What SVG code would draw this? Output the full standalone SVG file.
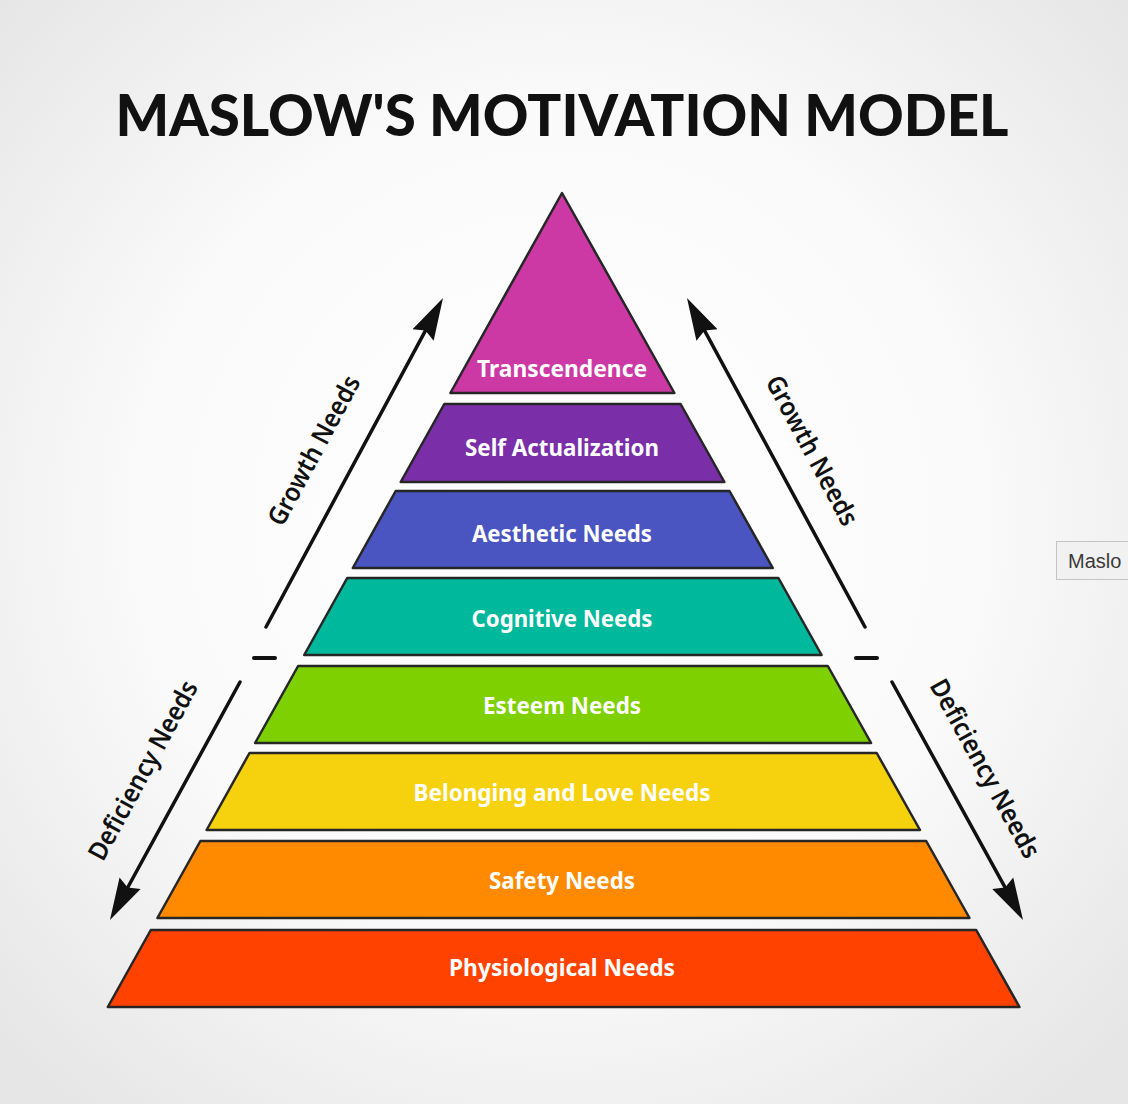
<svg xmlns="http://www.w3.org/2000/svg" width="1128" height="1104" viewBox="0 0 1128 1104">
  <defs>
    <radialGradient id="bg" cx="560" cy="520" r="760" gradientUnits="userSpaceOnUse">
      <stop offset="0" stop-color="#ffffff"/>
      <stop offset="0.55" stop-color="#fafafa"/>
      <stop offset="1" stop-color="#e6e6e6"/>
    </radialGradient>
    <marker id="head" viewBox="0 0 42 26" refX="30" refY="13" markerWidth="42" markerHeight="26" markerUnits="userSpaceOnUse" orient="auto">
      <path d="M0,1 L42,13 L0,25 L5,13 Z" fill="#111"/>
    </marker>
  </defs>
  <style>
    .layer { stroke: #262626; stroke-width: 2.5; stroke-linejoin: round; }
    .lbl { font-family: "Noto Sans", "Open Sans", sans-serif; font-weight: 700; font-size: 23px; fill: #ffffff; text-anchor: middle; }
    .side { font-family: "Noto Sans", "Open Sans", sans-serif; font-weight: 600; font-size: 26px; fill: #111; text-anchor: middle; dominant-baseline: central; }
    .arrow { stroke: #111; stroke-width: 3.5; fill: none; stroke-linecap: round; marker-end: url(#head); }
    .dash { stroke: #111; stroke-width: 4; stroke-linecap: round; }
    .title { font-family: "Lato", "Noto Sans", sans-serif; font-weight: 900; font-size: 58px; fill: #111; text-anchor: middle; }
  </style>

  <rect width="1128" height="1104" fill="url(#bg)"/>

  <text class="title" x="562" y="136" textLength="893" lengthAdjust="spacingAndGlyphs">MASLOW'S MOTIVATION MODEL</text>

  <g id="transcendence">
    <polygon class="layer" fill="#CC39A5" points="562,193 674.4,393 450.4,393"/>
    <text class="lbl" x="562" y="377" textLength="170" lengthAdjust="spacingAndGlyphs">Transcendence</text>
  </g>
  <g id="self-actualization">
    <polygon class="layer" fill="#7A2EA8" points="444.3,404 680.6,404 724.4,482 400.7,482"/>
    <text class="lbl" x="562" y="456" textLength="194" lengthAdjust="spacingAndGlyphs">Self Actualization</text>
  </g>
  <g id="aesthetic">
    <polygon class="layer" fill="#4A55C1" points="395.7,491 729.5,491 772.8,568 352.8,568"/>
    <text class="lbl" x="562" y="542" textLength="180" lengthAdjust="spacingAndGlyphs">Aesthetic Needs</text>
  </g>
  <g id="cognitive">
    <polygon class="layer" fill="#00B89B" points="347.2,578 778.4,578 821.6,655 304.2,655"/>
    <text class="lbl" x="562" y="627" textLength="181" lengthAdjust="spacingAndGlyphs">Cognitive Needs</text>
  </g>
  <g id="esteem">
    <polygon class="layer" fill="#7ED000" points="298.1,666 827.8,666 871.1,743 255.1,743"/>
    <text class="lbl" x="562" y="714" textLength="158" lengthAdjust="spacingAndGlyphs">Esteem Needs</text>
  </g>
  <g id="belonging">
    <polygon class="layer" fill="#F6D10E" points="249.5,753 876.7,753 920,830 206.6,830"/>
    <text class="lbl" x="562" y="801" textLength="297" lengthAdjust="spacingAndGlyphs">Belonging and Love Needs</text>
  </g>
  <g id="safety">
    <polygon class="layer" fill="#FF8A00" points="200.4,841 926.2,841 969.5,918 157.4,918"/>
    <text class="lbl" x="562" y="889" textLength="146" lengthAdjust="spacingAndGlyphs">Safety Needs</text>
  </g>
  <g id="physiological">
    <polygon class="layer" fill="#FF4200" points="150.8,930 976.2,930 1019.5,1007 107.8,1007"/>
    <text class="lbl" x="562" y="976" textLength="226" lengthAdjust="spacingAndGlyphs">Physiological Needs</text>
  </g>

  <g id="connectors">
    <line class="arrow" x1="266" y1="627" x2="437.3" y2="308.6"/>
    <line class="arrow" x1="865" y1="627" x2="692.7" y2="308.6"/>
    <line class="arrow" x1="240" y1="682" x2="115.7" y2="909.5"/>
    <line class="arrow" x1="892" y1="682" x2="1017.2" y2="909.5"/>
    <line class="dash" x1="254" y1="658" x2="275" y2="658"/>
    <line class="dash" x1="856" y1="658" x2="877" y2="658"/>
  </g>

  <g id="side-labels">
    <text class="side" transform="translate(313,450) rotate(-61.8)" textLength="166" lengthAdjust="spacingAndGlyphs">Growth Needs</text>
    <text class="side" transform="translate(813,450) rotate(61.8)" textLength="166" lengthAdjust="spacingAndGlyphs">Growth Needs</text>
    <text class="side" transform="translate(142,770) rotate(-61.4)" textLength="200" lengthAdjust="spacingAndGlyphs">Deficiency Needs</text>
    <text class="side" transform="translate(986,768) rotate(61.2)" textLength="200" lengthAdjust="spacingAndGlyphs">Deficiency Needs</text>
  </g>

  <g id="tooltip">
    <rect x="1056.5" y="541.5" width="90" height="38" fill="#f1f1f1" stroke="#c4c4c4"/>
    <text x="1068" y="568" font-family="Liberation Sans, Arial, sans-serif" font-size="20" fill="#3a3a3a">Maslo</text>
  </g>
</svg>
